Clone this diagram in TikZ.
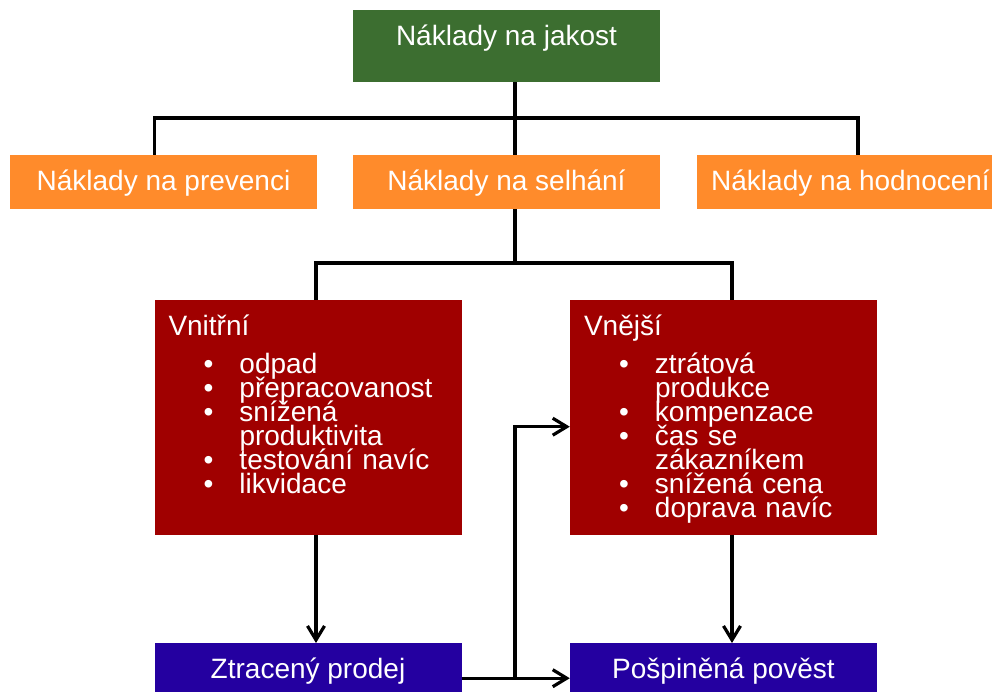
\documentclass[tikz,border=0pt]{standalone}
\usepackage{fontspec}
\setmainfont{Liberation Sans}
\usetikzlibrary{arrows.meta}
\definecolor{jakostgreen}{RGB}{60,110,48}
\definecolor{naklorange}{RGB}{255,139,43}
\definecolor{selhred}{RGB}{160,0,0}
\definecolor{ztratblue}{RGB}{36,0,160}
\newcommand{\odrazka}[1]{\par\noindent\hspace*{35pt}\makebox[36pt][l]{\textbullet}#1}
\newcommand{\pokrac}[1]{\par\noindent\hspace*{71pt}#1}

\begin{document}
\begin{tikzpicture}[x=1pt,y=-1pt,
        box/.style={anchor=north,minimum width=307pt,inner xsep=0pt,inner ysep=0pt,text=white,
            font=\fontsize{28}{24}\selectfont,text height=35pt},
        topbox/.style={box,fill=jakostgreen,text depth=37pt},
        costbox/.style={box,fill=naklorange,text depth=19pt},
        failbox/.style={box,fill=selhred,inner xsep=14pt,text width=279pt,align=left,text depth=200pt,
            execute at begin node={\lineskiplimit=-30pt}},
        lossbox/.style={box,fill=ztratblue,text depth=14pt},
        spoj/.style={line width=3.2pt},
        >={Straight Barb[length=14pt,width=17pt]}]
        \clip (0,0) rectangle (992,692);
        \node[topbox] (jakost) at (506.5,10) {Náklady na jakost};
        \node[costbox] (prevence) at (163.5,155) {Náklady na prevenci};
        \node[costbox] (selhani) at (506.5,155) {Náklady na selhání};
        \node[costbox] (hodnoceni) at (850.5,155) {Náklady na hodnocení};
        \node[failbox] (vnitrni) at (308,300) {Vnitřní\par\vspace{14pt}%
            \odrazka{odpad}\odrazka{přepracovanost}\odrazka{snížená}\pokrac{produktivita}%
            \odrazka{testování navíc}\odrazka{likvidace}};
        \node[failbox] (vnejsi) at (723.5,300) {Vnější\par\vspace{14pt}%
            \odrazka{ztrátová}\pokrac{produkce}\odrazka{kompenzace}%
            \odrazka{čas se}\pokrac{zákazníkem}%
            \odrazka{snížená cena}\odrazka{doprava navíc}};
        \node[lossbox] (prodej) at (308,643) {Ztracený prodej};
        \node[lossbox] (povest) at (723.5,643) {Pošpiněná pověst};
        \coordinate (rozcesti1) at (515,118);
        \coordinate (rozcesti2) at (515,263);
        \coordinate (odbocka) at (515,678);
        \draw[spoj] (jakost.south -| rozcesti1) -- (selhani.north -| rozcesti1);
        \draw[spoj] ([xshift=-9pt]prevence.north) |- (rozcesti1) -| ([xshift=7.5pt]hodnoceni.north);
        \draw[spoj] (selhani.south -| rozcesti2) -- (rozcesti2);
        \draw[spoj] ([xshift=8pt]vnitrni.north) |- (rozcesti2) -| ([xshift=8.5pt]vnejsi.north);
        \draw[spoj,->] ([xshift=8pt]vnitrni.south) -- ([xshift=8pt]prodej.north);
        \draw[spoj,->] ([xshift=8.5pt]vnejsi.south) -- ([xshift=8.5pt]povest.north);
        \draw[spoj,->] ([yshift=-10.5pt]prodej.east) -- ([yshift=-10.5pt]povest.west);
        \draw[spoj,->] (odbocka) |- ([yshift=-9pt]vnejsi.west);
\end{tikzpicture}
\end{document}
